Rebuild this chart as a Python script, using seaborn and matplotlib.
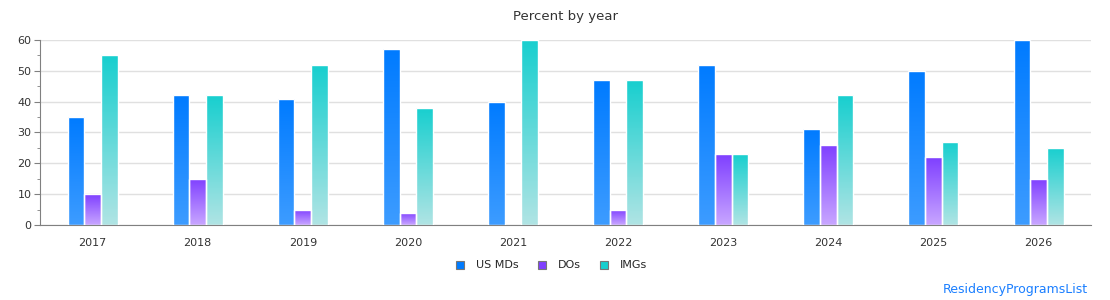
import matplotlib
matplotlib.use("Agg")
import matplotlib.pyplot as plt
import numpy as np
import pandas as pd
import seaborn as sns
from matplotlib.colors import LinearSegmentedColormap
from matplotlib.patches import Patch
from matplotlib.ticker import MultipleLocator

# data
years = ["2017", "2018", "2019", "2020", "2021", "2022", "2023", "2024", "2025", "2026"]
us_mds = [35, 42, 41, 57, 40, 47, 52, 31, 50, 60]
dos = [10, 15, 5, 4, 0, 5, 23, 26, 22, 15]
imgs = [55, 42, 52, 38, 60, 47, 23, 42, 27, 25]
groups = ["US MDs", "DOs", "IMGs"]

# gradient colours: (top, bottom)
grads = {
    "US MDs": ("#007bff", "#3d9cff"),
    "DOs": ("#7f3fff", "#c8a6ff"),
    "IMGs": ("#17cfcf", "#b0e4e4"),
}

df = pd.DataFrame({"year": years * 3,
                   "group": np.repeat(groups, len(years)),
                   "value": us_mds + dos + imgs})

sns.set_style("white")
plt.rcParams["font.family"] = ["DejaVu Sans"]

fig, ax = plt.subplots(figsize=(11.1, 3.0), dpi=100)
fig.subplots_adjust(left=0.036, right=0.983, top=0.867, bottom=0.25)

sns.barplot(data=df, x="year", y="value", hue="group", hue_order=groups,
            width=0.476, ax=ax, legend=False, errorbar=None,
            palette=[grads[g][0] for g in groups])

# replace flat fills with vertical gradients clipped to each bar
grad = np.linspace(0, 1, 256).reshape(-1, 1)
for container, g in zip(ax.containers, groups):
    cmap = LinearSegmentedColormap.from_list(g, [grads[g][1], grads[g][0]])
    for bar in container:
        h = bar.get_height()
        if h <= 0:
            bar.set_visible(False)
            continue
        x0 = bar.get_x()
        w = bar.get_width()
        bar.set_facecolor("none")
        bar.set_edgecolor("white")
        bar.set_linewidth(1.0)
        bar.set_zorder(3)
        im = ax.imshow(grad, cmap=cmap, origin="lower", aspect="auto",
                       interpolation="bilinear",
                       extent=(x0, x0 + w, 0, h), zorder=2)
        im.set_clip_path(bar)

ax.set_xlim(-0.5, 9.5)
ax.set_ylim(0, 60)

ax.yaxis.set_major_locator(MultipleLocator(10))
ax.yaxis.set_minor_locator(MultipleLocator(5))
ax.grid(axis="y", color="#e0e0e0", linewidth=1, zorder=0)
ax.set_axisbelow(True)
for s in ["top", "right"]:
    ax.spines[s].set_visible(False)
for s in ["left", "bottom"]:
    ax.spines[s].set_color("#808080")
ax.tick_params(axis="y", which="major", left=True, length=4, color="#808080",
               labelsize=8, labelcolor="#333333", pad=2)
ax.tick_params(axis="y", which="minor", left=True, length=2, color="#808080")
ax.tick_params(axis="x", bottom=False, length=0,
               labelsize=8, labelcolor="#333333", pad=9)
ax.set_xlabel("")
ax.set_ylabel("")

ax.set_title("Percent by year", fontsize=9.5, color="#333333", pad=14)

handles = [Patch(facecolor=grads[g][0], edgecolor="#777777", linewidth=0.8, label=g)
           for g in groups]
fig.legend(handles=handles, loc="center", bbox_to_anchor=(0.497, 0.115), ncol=3,
           frameon=False, fontsize=8, handlelength=0.7, handleheight=0.7,
           handletextpad=1.1, columnspacing=1.7)

fig.text(0.98, 0.035, "ResidencyProgramsList", color="#1a7fff", fontsize=9,
         ha="right", va="center")

fig.savefig("out.png", dpi=100)
